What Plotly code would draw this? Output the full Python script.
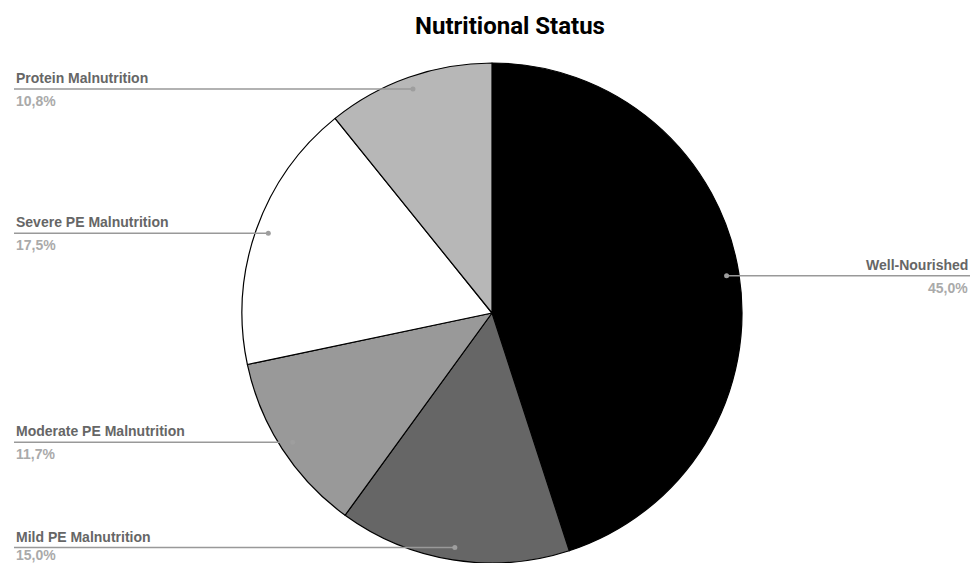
import math
import plotly.graph_objects as go

categories = ["Well-Nourished", "Mild PE Malnutrition", "Moderate PE Malnutrition",
              "Severe PE Malnutrition", "Protein Malnutrition"]
values = [45.0, 15.0, 11.7, 17.5, 10.8]
colors = ["#000000", "#666666", "#999999", "#ffffff", "#b7b7b7"]

W, H = 976, 563
CX, CY, R = 492, 313, 250  # pie centre / radius in pixels

def px(x):
    return x / W

def py(y):
    return 1 - y / H

fig = go.Figure()
fig.add_trace(go.Pie(
    labels=categories, values=values, sort=False, direction="clockwise", rotation=0,
    marker=dict(colors=colors, line=dict(color="#000000", width=1.2)),
    textinfo="none", hoverinfo="label+percent", showlegend=False,
    domain=dict(x=[px(CX - R), px(CX + R)], y=[py(CY + R), py(CY - R)]),
))

shapes = []
annotations = []
total = sum(values)
cum = 0.0
for name, v in zip(categories, values):
    mid = (cum + v / 2) / total * 2 * math.pi
    cum += v
    dx = math.sin(mid) * R * 0.95
    dy = -math.cos(mid) * R * 0.95
    dotx, doty = CX + dx, CY + dy
    right = dx > 0
    label = f"{v / total * 100:.1f}".replace(".", ",") + "%"
    if right:
        x0, x1 = dotx, 970
        ax, anchor = 970, "right"
    else:
        x0, x1 = 14, dotx
        ax, anchor = 14, "left"
    shapes.append(dict(type="line", xref="paper", yref="paper",
                       x0=px(x0), x1=px(x1), y0=py(doty), y1=py(doty),
                       line=dict(color="#999999", width=1.5)))
    shapes.append(dict(type="circle", xref="paper", yref="paper",
                       x0=px(dotx - 2.5), x1=px(dotx + 2.5),
                       y0=py(doty + 2.5), y1=py(doty - 2.5),
                       fillcolor="#9e9e9e", line=dict(width=0)))
    annotations.append(dict(x=px(ax), y=py(doty - 11), xref="paper", yref="paper",
                            text=f"<b>{name}</b>", showarrow=False, xanchor=anchor,
                            yanchor="middle",
                            font=dict(family="Liberation Sans, Arial", size=14, color="#666666")))
    annotations.append(dict(x=px(ax), y=py(min(doty + 12, H - 8)), xref="paper", yref="paper",
                            text=f"<b>{label}</b>", showarrow=False, xanchor=anchor,
                            yanchor="middle",
                            font=dict(family="Liberation Sans, Arial", size=14, color="#aaaaaa")))

fig.update_layout(
    width=W, height=H,
    margin=dict(l=0, r=0, t=0, b=0),
    paper_bgcolor="#ffffff", plot_bgcolor="#ffffff",
    title=dict(text="<b>Nutritional Status</b>", x=px(510), xanchor="center",
               y=py(26), yanchor="middle",
               font=dict(family="Roboto", size=24, color="#000000")),
    shapes=shapes, annotations=annotations,
)

fig.write_html("out.html")
